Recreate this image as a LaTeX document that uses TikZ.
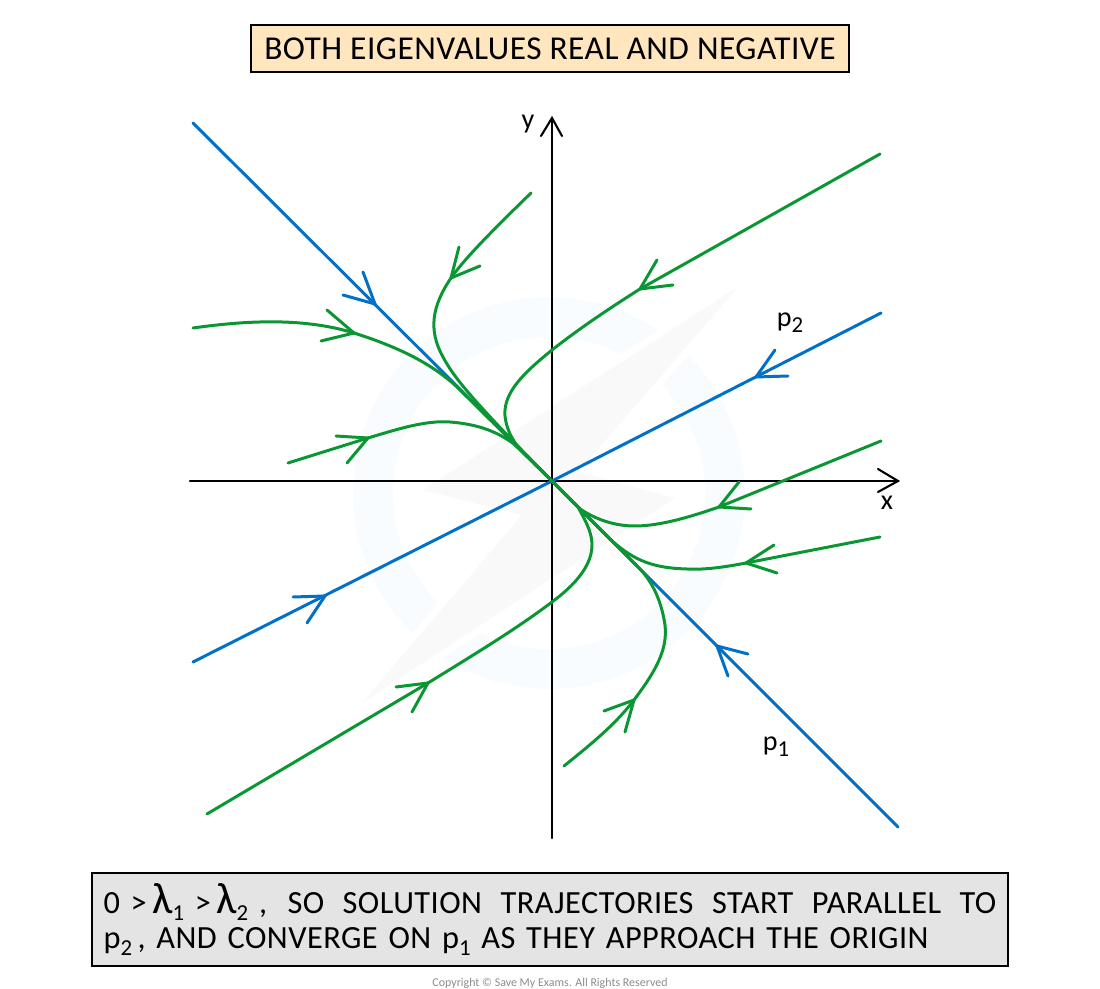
\documentclass[tikz,border=0pt]{standalone}
\usepackage{fontspec}
\usepackage{xcolor}
\setmainfont[LetterSpace=1.5]{Carlito}
\definecolor{trajgreen}{HTML}{0A9633}
\definecolor{eigblue}{HTML}{0070C8}
\definecolor{titlefill}{HTML}{FFE6BE}
\definecolor{notefill}{HTML}{E4E4E4}
\definecolor{markring}{HTML}{F9FCFE}
\definecolor{markbolt}{HTML}{F9F9F9}
\newcommand{\lowidx}[1]{\raisebox{-0.45ex}{\fontsize{13}{13}\selectfont #1}}
\newcommand{\biglam}{{\fontsize{25}{20}\selectfont λ}}
\tikzset{
  axisline/.style={black, line width=1.2pt, line cap=round},
  eigline/.style={eigblue, line width=1.7pt, line cap=round, line join=miter},
  trajline/.style={trajgreen, line width=1.7pt, line cap=round, line join=miter},
  boxnode/.style={draw=black, line width=0.8pt, inner sep=0pt, font=\fontsize{19}{20}\selectfont},
  notetext/.style={font=\fontsize{18.4}{20}\selectfont},
  letternode/.style={font=\fontsize{16}{16}\selectfont}
}
\begin{document}
\begin{tikzpicture}[x=0.02cm, y=-0.02cm]
\useasboundingbox (0,0) rectangle (1100,989);

\fill[markring, even odd rule] (549,493) circle (3.92cm) (549,493) circle (3.12cm);
\filldraw[markbolt, draw=white, line width=8pt, line join=round] (738,287) -- (423,490) -- (522,515) -- (363,702) -- (675,498) -- (578,472) -- cycle;
\fill[markbolt] (738,287) -- (423,490) -- (522,515) -- (363,702) -- (675,498) -- (578,472) -- cycle;

\coordinate (O) at (552,481);
\coordinate (xs) at (190,481);
\coordinate (xe) at (898,481);
\coordinate (ys) at (552,838);
\coordinate (ye) at (552,118);
\coordinate (pa) at (193,123);
\coordinate (pb) at (898,827);
\coordinate (qa) at (193,662);
\coordinate (qb) at (881,313);

\draw[axisline] (xs) -- (xe);
\draw[axisline] (ys) -- (ye);
\draw[axisline] (878,469) -- (xe) -- (878,492);
\draw[axisline] (541,136) -- (ye) -- (562,136);

\draw[eigline] (pa) -- (O) -- (pb);
\draw[eigline] (qa) -- (O) -- (qb);
\draw[eigline] (363,272) -- (375,304) -- (343,295);
\draw[eigline] (748,654) -- (717,646) -- (728,676);
\draw[eigline] (775,350) -- (756,377) -- (788,376);
\draw[eigline] (293,597) -- (325,596) -- (307,623);

\draw[trajline] (531,193) .. controls (495,228) and (465,258) .. (451,278) .. controls (432,306) and (428,330) .. (443,357) .. controls (455,380) and (480,408) .. (O);
\draw[trajline] (459,247) -- (451,278) -- (480,266);

\draw[trajline] (193,328) .. controls (250,320) and (305,318) .. (354,333) .. controls (395,346) and (430,362) .. (457,387) -- (O);
\draw[trajline] (327,310) -- (354,333) -- (321,341);

\draw[trajline] (288,463) -- (368,438) .. controls (395,430) and (425,420) .. (450,422) .. controls (475,424) and (495,430) .. (514,444) -- (O);
\draw[trajline] (336,436) -- (368,438) -- (347,463);

\draw[trajline] (880,154) -- (640,289) .. controls (610,308) and (580,328) .. (552,350) .. controls (525,372) and (503,392) .. (505,416) .. controls (506,425) and (509,435) .. (518,447) -- (O);
\draw[trajline] (657,260) -- (640,289) -- (673,285);

\draw[trajline] (881,441) -- (719,507) .. controls (690,517) and (660,526) .. (635,526) .. controls (615,526) and (597,520) .. (580,509) -- (O);
\draw[trajline] (739,482) -- (719,507) -- (751,509);

\draw[trajline] (880,537) -- (746,563) .. controls (725,567) and (705,570) .. (687,569) .. controls (655,568) and (635,562) .. (610,539) -- (O);
\draw[trajline] (774,545) -- (746,563) -- (777,573);

\draw[trajline] (564,766) .. controls (590,745) and (615,725) .. (634,700) .. controls (655,672) and (668,650) .. (665,625) .. controls (662,605) and (655,585) .. (640,569) -- (O);
\draw[trajline] (604,711) -- (634,700) -- (625,732);

\draw[trajline] (207,814) -- (428,683) .. controls (470,657) and (515,630) .. (552,602) .. controls (575,585) and (593,565) .. (592,543) .. controls (591,530) and (585,520) .. (578,507) -- (O);
\draw[trajline] (396,687) -- (428,683) -- (412,712);

\node[letternode] (ylabel) at (528,124) {y};
\node[letternode] (xlabel) at (887,503) {x};
\node[letternode] (ptwo) at (790,323) {p\lowidx{2}};
\node[letternode] (pone) at (776,747) {p\lowidx{1}};

\node[boxnode, fill=titlefill, minimum width=11.96cm, minimum height=0.94cm] (titlebox) at (550,48.5) {BOTH EIGENVALUES REAL AND NEGATIVE};
\node[boxnode, notetext, fill=notefill, minimum height=1.86cm, inner xsep=0.23cm, text width=17.86cm, align=left] (notebox) at (550,919.5) {\makebox[17.86cm][s]{\spaceskip=.3333em plus 1fil 0\,\,>\,\biglam\lowidx{1}\,\,>\,\biglam\lowidx{2}\,\,, SO SOLUTION TRAJECTORIES START PARALLEL TO}\\p\lowidx{2}\,, AND CONVERGE ON p\lowidx{1} AS THEY APPROACH THE ORIGIN};
\node[text=black!45, font=\fontsize{6.8}{7}\selectfont] (copyright) at (550,983) {\addfontfeature{LetterSpace=0}Copyright © Save My Exams. All Rights Reserved};
\end{tikzpicture}
\end{document}
